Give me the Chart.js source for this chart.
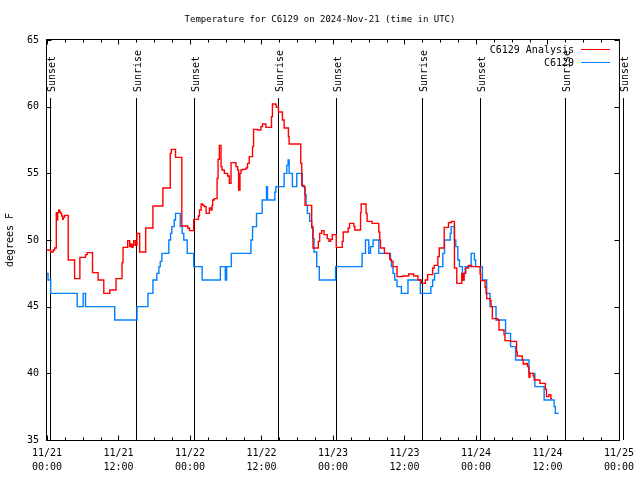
<!DOCTYPE html>
<html><head><meta charset="utf-8">
<script src="https://cdn.jsdelivr.net/npm/chart.js@4"></script>
<style>html,body{margin:0;padding:0;background:#fff}</style>
</head><body>
<canvas id="c" width="640" height="480"></canvas>
<script>
// hours since 2024-11-21 00:00 UTC
const analysisHours = [0, 0.62, 1.05, 1.29, 1.56, 1.67, 1.79, 1.96, 2.12, 2.29,
  2.46, 2.63, 2.73, 2.96, 3.56, 4.63, 5.52, 6.47, 6.74, 7.64,
  8.58, 9.53, 10.54, 11.59, 12.59, 12.76, 13.55, 13.88, 14.10, 14.26,
  14.43, 14.55, 14.83, 15.10, 15.43, 15.55, 16.56, 17.78, 19.45, 20.69,
  20.85, 21.57, 22.63, 23.63, 23.91, 24.63, 25.42, 25.59, 25.87, 26.14,
  26.42, 26.71, 27.26, 27.54, 27.71, 27.81, 28.09, 28.55, 28.71, 28.93,
  29.21, 29.38, 29.77, 30.32, 30.60, 30.89, 31.72, 31.99, 32.16, 32.39,
  32.56, 32.83, 33.39, 33.66, 33.95, 34.50, 34.67, 35.33, 35.90, 36.17,
  36.74, 37.68, 37.84, 38.41, 38.51, 38.85, 39.52, 39.80, 40.52, 40.64,
  42.59, 42.76, 43.14, 43.31, 44.43, 44.65, 45.54, 45.77, 46.10, 46.49,
  47.04, 47.32, 47.61, 47.88, 48.55, 49.55, 49.72, 50.55, 50.79, 51.51,
  51.67, 52.63, 52.73, 53.56, 53.73, 54.57, 55.69, 55.85, 55.97, 56.64,
  57.53, 57.81, 58.08, 58.75, 59.70, 60.70, 61.54, 62.26, 62.83, 63.50,
  63.88, 64.72, 65.00, 65.60, 65.84, 66.67, 67.39, 67.84, 68.39, 68.78,
  69.62, 69.85, 70.02, 70.28, 70.74, 71.29, 72.69, 72.79, 73.53, 73.70,
  73.80, 74.36, 74.53, 74.75, 75.64, 75.87, 76.71, 76.87, 77.81, 78.81,
  78.93, 79.77, 79.93, 80.43, 80.65, 80.89, 81.05, 81.61, 81.77, 82.73,
  83.66, 83.83, 84.23, 84.57, 84.78];
const analysisTemps = [49.25, 49.1, 49.25, 49.4, 52.05, 51.5, 52.05, 52.25, 52.1, 52.0,
  51.8, 51.55, 51.7, 51.85, 48.5, 47.1, 48.7, 48.9, 49.05, 47.55,
  47.0, 46.0, 46.25, 47.1, 48.3, 49.45, 49.95, 49.5, 49.7, 49.45,
  49.6, 49.95, 49.6, 50.5, 50.5, 49.1, 50.9, 52.55, 53.9, 56.5,
  56.8, 56.2, 51.05, 50.9, 50.7, 51.55, 51.8, 52.25, 52.7, 52.6,
  52.5, 52.0, 52.4, 52.25, 52.6, 53.0, 53.1, 54.6, 56.05, 57.1,
  55.5, 55.25, 55.0, 54.8, 54.25, 55.8, 55.5, 55.25, 53.75, 55.0,
  55.25, 55.3, 55.4, 55.75, 56.25, 57.0, 58.3, 58.25, 58.5, 58.7,
  58.45, 59.25, 60.2, 60.1, 59.95, 59.6, 59.0, 58.4, 57.75, 57.2,
  55.75, 54.1, 54.0, 52.6, 51.0, 49.4, 49.9, 50.5, 50.7, 50.4,
  50.1, 49.9, 50.05, 50.4, 49.45, 49.9, 50.6, 50.9, 51.25, 51.0,
  50.75, 52.05, 52.7, 52.0, 51.4, 51.25, 50.6, 50.0, 49.4, 49.0,
  48.55, 48.4, 48.0, 47.25, 47.3, 47.45, 47.3, 47.0, 46.75, 47.0,
  47.4, 47.9, 48.1, 48.75, 49.4, 50.95, 51.3, 51.4, 47.9, 46.75,
  47.5, 47.0, 47.5, 47.9, 48.1, 48.0, 47.45, 46.95, 46.45, 46.0,
  45.6, 45.45, 45.0, 44.1, 44.0, 43.25, 42.9, 42.45, 42.4, 41.6,
  41.3, 41.0, 40.7, 40.75, 40.5, 39.7, 40.0, 39.8, 39.5, 39.25,
  38.8, 38.25, 38.4, 38.1, 38.1];
const obsHours = [0, 0.17, 0.62, 5.07, 6.07, 6.47, 11.37, 15.10, 16.94, 17.78,
  18.44, 18.78, 19.01, 19.28, 20.45, 20.74, 20.95, 21.35, 21.57, 22.36,
  22.69, 22.96, 23.53, 24.63, 26.04, 29.10, 29.93, 30.15, 30.94, 34.23,
  34.50, 35.17, 36.12, 36.84, 37.01, 38.24, 38.41, 39.80, 40.25, 40.47,
  40.64, 41.19, 41.92, 42.86, 43.26, 43.48, 43.70, 44.10, 44.43, 44.60,
  44.82, 45.27, 45.70, 48.44, 52.89, 53.46, 54.01, 54.30, 54.73, 55.69,
  57.64, 57.81, 58.08, 58.36, 58.75, 59.48, 60.59, 62.66, 64.43, 64.72,
  65.05, 65.72, 66.44, 66.72, 67.68, 67.84, 68.39, 68.61, 68.95, 69.23,
  69.73, 69.90, 70.18, 71.19, 71.74, 71.94, 73.08, 73.80, 74.36, 75.37,
  76.97, 77.81, 78.65, 80.89, 81.89, 83.44, 85.12, 85.33, 85.90];
const obsTemps = [47.5, 47.0, 46.0, 45.0, 46.0, 45.0, 44.0, 45.0, 46.0, 47.0,
  47.5, 48.0, 48.4, 49.0, 50.0, 50.5, 51.0, 51.5, 52.0, 51.0,
  50.5, 50.0, 49.0, 48.0, 47.0, 48.0, 47.0, 48.0, 49.0, 50.0,
  51.0, 52.0, 53.0, 54.0, 53.0, 53.6, 54.0, 55.0, 55.6, 56.0,
  55.0, 54.0, 55.0, 54.0, 53.4, 52.6, 52.0, 51.4, 50.9, 50.1,
  49.1, 48.0, 47.0, 48.0, 49.0, 50.0, 49.0, 49.5, 50.0, 49.0,
  48.5, 48.0, 47.5, 47.0, 46.5, 46.0, 47.0, 46.0, 46.5, 47.0,
  47.5, 48.0, 49.0, 50.0, 50.5, 51.0, 50.0, 49.5, 48.5, 48.0,
  47.0, 47.5, 48.0, 49.0, 48.5, 48.0, 47.0, 46.0, 45.0, 44.0,
  43.0, 42.0, 41.0, 40.0, 39.0, 38.0, 37.5, 37.0, 37.0];
const tickDates = ['11/21', '11/21', '11/22', '11/22', '11/23', '11/23', '11/24', '11/24', '11/25'];
const tickTimes = ['00:00', '12:00', '00:00', '12:00', '00:00', '12:00', '00:00', '12:00', '00:00'];
const sunHours = [0.5, 15.0, 24.63, 38.85, 48.58, 62.93, 72.69, 87.01, 96.71];
const sunNames = ['Sunset', 'Sunrise', 'Sunset', 'Sunrise', 'Sunset', 'Sunrise', 'Sunset', 'Sunrise', 'Sunset'];
const seriesNames = ['C6129 Analysis', 'C6129'];
const seriesColors = ['#ff0000', '#0080ff'];
const chartTitle = 'Temperature for C6129 on 2024-Nov-21 (time in UTC)';

const MONO = "'DejaVu Sans Mono', 'Liberation Mono', monospace";
Chart.defaults.font.family = MONO;
Chart.defaults.font.size = 10;
Chart.defaults.color = '#000';

const toPts = (xs, ys) => xs.map((x, i) => ({x: x, y: ys[i]}));

const decor = {
  id: 'decor',
  beforeDatasetsDraw(chart) {
    const ctx = chart.ctx, xs = chart.scales.x, {bottom} = chart.chartArea;
    ctx.save();
    ctx.strokeStyle = '#000'; ctx.lineWidth = 1; ctx.fillStyle = '#000';
    ctx.font = '10px ' + MONO;
    sunHours.forEach((h, i) => {
      const x = Math.round(xs.getPixelForValue(h)) + 0.5;
      ctx.beginPath(); ctx.moveTo(x, 98); ctx.lineTo(x, bottom); ctx.stroke();
      ctx.save();
      ctx.translate(x + 1, 92);
      ctx.rotate(-Math.PI / 2);
      ctx.textAlign = 'left'; ctx.textBaseline = 'alphabetic';
      ctx.fillText(sunNames[i], 0, 3.7);
      ctx.restore();
    });
    ctx.restore();
  },
  afterDraw(chart) {
    const ctx = chart.ctx, xs = chart.scales.x, ys = chart.scales.y;
    const {left, right, top, bottom} = chart.chartArea;
    ctx.save();
    // title
    ctx.fillStyle = '#000';
    ctx.font = '9px ' + MONO;
    ctx.textAlign = 'center'; ctx.textBaseline = 'middle';
    ctx.fillText(chartTitle, 320, 19.5);
    ctx.strokeStyle = '#000'; ctx.lineWidth = 1;
    const L = left - 0.5, R = right + 0.5, T = top - 0.5, B = bottom + 0.5;
    ctx.strokeRect(L, T, R - L, B - T);
    ctx.beginPath();
    for (let h = 0; h <= 96; h += 3) {
      const x = Math.round(xs.getPixelForValue(h)) + 0.5;
      const len = h % 12 === 0 ? 5 : 3;
      ctx.moveTo(x, B); ctx.lineTo(x, B - len);
      ctx.moveTo(x, T); ctx.lineTo(x, T + len);
    }
    for (let v = 35; v <= 65; v += 5) {
      const y = Math.round(ys.getPixelForValue(v)) + 0.5;
      ctx.moveTo(L, y); ctx.lineTo(L + 5, y);
      ctx.moveTo(R, y); ctx.lineTo(R - 5, y);
    }
    ctx.stroke();
    // legend
    ctx.font = '10px ' + MONO;
    ctx.textAlign = 'right'; ctx.textBaseline = 'middle';
    seriesNames.forEach((n, i) => {
      const y = 49.5 + i * 13;
      ctx.fillText(n, 574, y + 0.5);
      ctx.strokeStyle = seriesColors[i];
      ctx.beginPath(); ctx.moveTo(581, y); ctx.lineTo(610, y); ctx.stroke();
    });
    ctx.restore();
  }
};

new Chart(document.getElementById('c'), {
  type: 'line',
  data: {
    datasets: [
      {label: seriesNames[0], data: toPts(analysisHours, analysisTemps), borderColor: seriesColors[0],
       borderWidth: 1.4, pointRadius: 0, stepped: 'before', fill: false},
      {label: seriesNames[1], data: toPts(obsHours, obsTemps), borderColor: seriesColors[1],
       borderWidth: 1.4, pointRadius: 0, stepped: 'before', fill: false}
    ]
  },
  options: {
    responsive: false,
    animation: false,
    layout: {padding: {left: 0, right: 19, top: 40, bottom: 0}},
    plugins: {
      legend: {display: false},
      tooltip: {enabled: false},
      title: {display: false}
    },
    scales: {
      x: {
        type: 'linear', min: 0, max: 96,
        grid: {display: false, drawTicks: false},
        border: {display: false},
        ticks: {stepSize: 12, autoSkip: false, maxRotation: 0, padding: 6,
                font: {size: 10, lineHeight: 1.4},
                callback: (v) => { const i = Math.round(v / 12); return [tickDates[i], tickTimes[i]]; }},
        afterFit: (s) => { s.height = 40; }
      },
      y: {
        min: 35, max: 65,
        grid: {display: false, drawTicks: false},
        border: {display: false},
        ticks: {stepSize: 5, padding: 8},
        title: {display: true, text: 'degrees F', font: {size: 10}, padding: {top: 4, bottom: 0}},
        afterFit: (s) => { s.width = 47; }
      }
    }
  },
  plugins: [decor]
});
</script>
</body></html>
